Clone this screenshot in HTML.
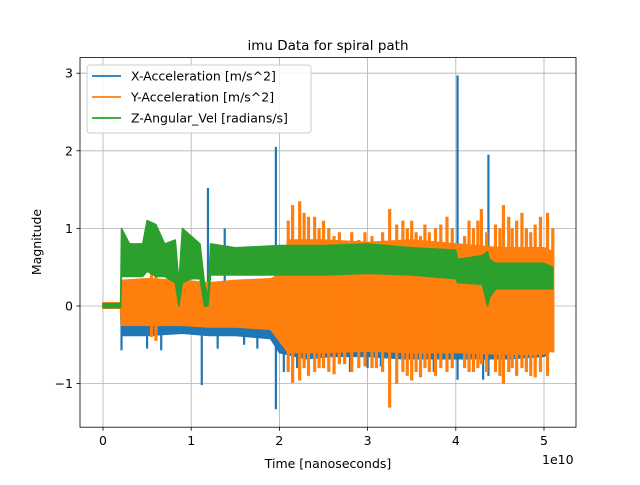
<!DOCTYPE html>
<html><head><meta charset="utf-8"><style>
body{margin:0;background:#fff}
svg text{font-family:"DejaVu Sans","Liberation Sans",sans-serif;fill:#000}
</style></head><body>
<svg id="chart" width="640" height="480" viewBox="0 0 640 480">
<rect width="640" height="480" fill="#fff"/>
<g id="grid"></g>
<g id="series"></g>
<rect x="80" y="57.6" width="496" height="369.6" fill="none" stroke="#000" stroke-width="0.8"/>
<g id="ticks"></g>
<text x="328" y="50" font-size="13.5" text-anchor="middle">imu Data for spiral path</text>
<text x="328" y="468" font-size="12.5" text-anchor="middle">Time [nanoseconds]</text>
<text x="542" y="464" font-size="12.5">1e10</text>
<text transform="translate(41,242) rotate(-90)" font-size="12.5" text-anchor="middle">Magnitude</text>
<g>
<rect x="87" y="65" width="224" height="68" rx="3" fill="#fff" fill-opacity="0.85" stroke="#ccc"/>
<line x1="92" y1="76" x2="121" y2="76" stroke="#1f77b4" stroke-width="1.8"/>
<text x="131" y="80.5" font-size="12.5">X-Acceleration [m/s^2]</text>
<line x1="92" y1="97" x2="121" y2="97" stroke="#ff7f0e" stroke-width="1.8"/>
<text x="131" y="101.5" font-size="12.5">Y-Acceleration [m/s^2]</text>
<line x1="92" y1="118" x2="121" y2="118" stroke="#2ca02c" stroke-width="1.8"/>
<text x="131" y="122.5" font-size="12.5">Z-Angular_Vel [radians/s]</text>
</g>
</svg>
<script>
var xTicks=[0,1,2,3,4,5];
var yTicks=[-1,0,1,2,3];
var yTickLabels=["\u22121","0","1","2","3"];
var blueT=[0,0.2,0.21,0.5,0.9,1.2,1.5,1.9,2.0,2.3,2.6,3.0,3.4,3.8,4.2,4.6,5.0,5.1];
var blueHi=[0.04,0.04,0.3,0.3,0.3,0.3,0.3,0.3,0.3,0.3,0.3,0.3,0.3,0.3,0.3,0.3,0.3,0.3];
var blueLo=[-0.03,-0.03,-0.38,-0.38,-0.35,-0.38,-0.38,-0.42,-0.6,-0.68,-0.65,-0.65,-0.68,-0.68,-0.68,-0.68,-0.65,-0.55];
var blueSpikeT=[1.19,1.12,1.96,1.38,4.02,4.37,4.31,4.98,0.21,0.66,0.5,1.3,1.6,1.75,2.05,2.2,2.8,3.0,3.15,3.6,3.75,4.6,4.85];
var blueSpikeTop=[1.52,0.3,2.05,1.0,2.97,1.95,0.3,0.3,0.3,0.3,0.3,0.3,0.3,0.3,0.3,0.3,0.3,0.3,0.3,0.3,0.3,0.3,0.3];
var blueSpikeBottom=[-0.3,-1.02,-1.33,-0.3,-0.95,-0.9,-0.95,-0.5,-0.57,-0.57,-0.55,-0.55,-0.5,-0.55,-0.85,-0.8,-0.85,-0.8,-0.78,-0.85,-0.85,-0.85,-0.8];
var orangeT=[0,0.2,0.21,0.5,0.9,1.2,1.5,1.9,2.0,2.1,2.5,3.0,3.5,4.0,4.5,5.0,5.1];
var orangeHi=[0.04,0.04,0.33,0.35,0.33,0.3,0.33,0.35,0.4,0.85,0.85,0.82,0.85,0.8,0.75,0.75,0.7];
var orangeLo=[-0.03,-0.03,-0.25,-0.25,-0.25,-0.27,-0.27,-0.3,-0.45,-0.6,-0.6,-0.58,-0.6,-0.6,-0.62,-0.62,-0.55];
var orangeSpikeT=[0.55,0.6,2.1,2.15,2.23,2.28,2.33,2.4,2.45,2.5,2.56,2.62,2.68,2.74,2.82,2.9,2.97,3.05,3.1,3.17,3.25,3.33,3.4,3.45,3.5,3.55,3.6,3.65,3.7,3.77,3.83,3.9,3.96,4.1,4.15,4.2,4.25,4.29,4.35,4.45,4.5,4.54,4.6,4.64,4.69,4.75,4.8,4.85,4.9,4.96,5.04,5.1];
var orangeSpikeTop=[0.45,0.4,1.1,1.3,1.35,1.2,1.15,1.15,1.0,1.1,1.0,0.9,0.95,0.8,0.95,0.85,0.95,0.9,0.8,0.95,1.25,1.05,1.1,1.0,1.1,0.95,0.9,1.05,0.95,1.0,1.05,1.15,1.0,0.9,1.1,1.0,1.1,1.25,0.95,1.05,1.0,1.3,1.15,1.0,1.1,1.2,1.0,0.95,1.05,1.15,1.2,1.0];
var orangeSpikeBottom=[-0.4,-0.45,-0.85,-0.99,-0.96,-0.8,-0.9,-0.85,-0.8,-0.8,-0.85,-0.88,-0.75,-0.75,-0.85,-0.8,-0.78,-0.8,-0.8,-0.85,-1.31,-1.0,-0.85,-0.9,-0.96,-0.85,-0.92,-0.8,-0.85,-0.9,-0.8,-0.85,-0.8,-0.8,-0.85,-0.85,-0.8,-0.75,-0.85,-0.85,-0.9,-1.0,-0.85,-0.8,-0.9,-0.8,-0.85,-0.9,-0.92,-0.85,-0.9,-0.6];
var greenT=[0,0.2,0.21,0.3,0.45,0.5,0.6,0.7,0.82,0.86,0.9,1.0,1.1,1.15,1.19,1.22,1.5,2.0,2.5,3.0,3.5,4.0,4.02,4.3,4.36,4.38,4.45,5.0,5.1];
var greenHi=[0.03,0.03,1.0,0.8,0.8,1.1,1.05,0.8,0.85,0.3,1.0,0.9,0.8,0.3,0.1,0.8,0.75,0.78,0.78,0.8,0.75,0.72,0.6,0.65,0.7,0.6,0.55,0.55,0.5];
var greenLo=[-0.02,-0.02,0.38,0.38,0.38,0.45,0.38,0.38,0.3,0.0,0.3,0.35,0.35,0.0,0.0,0.4,0.4,0.4,0.4,0.42,0.4,0.35,0.3,0.28,0.0,0.1,0.22,0.22,0.22];

var NS="http://www.w3.org/2000/svg";
function sx(t){return 103+t*88.2;}
function sy(v){return 306-v*77.6;}
function mk(tag,attrs,parent){var e=document.createElementNS(NS,tag);for(var k in attrs)e.setAttribute(k,attrs[k]);parent.appendChild(e);return e;}
var grid=document.getElementById('grid'),ticks=document.getElementById('ticks'),series=document.getElementById('series');
xTicks.forEach(function(t){
  var x=sx(t);
  var g=mk('line',{x1:x,y1:57.6,x2:x,y2:427.2,stroke:'#b0b0b0','stroke-width':0.8},grid);
  
  
  var tk=mk('line',{x1:x,y1:427.2,x2:x,y2:430.7,stroke:'#000','stroke-width':0.8},ticks);
  
  
  var lb=mk('text',{x:x,y:445,'font-size':12.5,'text-anchor':'middle'},ticks);
  lb.textContent=String(t);
  
  
});
yTicks.forEach(function(v,i){
  var y=sy(v);
  var g=mk('line',{x1:80,y1:y,x2:576,y2:y,stroke:'#b0b0b0','stroke-width':0.8},grid);
  
  
  var tk=mk('line',{x1:76.5,y1:y,x2:80,y2:y,stroke:'#000','stroke-width':0.8},ticks);
  
  
  var lb=mk('text',{x:73,y:y+4.5,'font-size':12.5,'text-anchor':'end'},ticks);
  lb.textContent=yTickLabels[i];
  
  
});
function band(T,H,L,color,name){
  var d='';
  for(var i=0;i<T.length;i++)d+=(i?'L':'M')+sx(T[i]).toFixed(1)+' '+sy(H[i]).toFixed(1);
  for(var j=T.length-1;j>=0;j--)d+='L'+sx(T[j]).toFixed(1)+' '+sy(L[j]).toFixed(1);
  d+='Z';
  var p=mk('path',{d:d,fill:color,stroke:color,'stroke-width':1.5,'stroke-linejoin':'round'},series);
  
  
}
function spikes(T,Top,Bot,color,w,name){
  T.forEach(function(t,i){
    var l=mk('line',{x1:sx(t),y1:sy(Top[i]),x2:sx(t),y2:sy(Bot[i]),stroke:color,'stroke-width':w},series);
    
    
  });
}
band(blueT,blueHi,blueLo,'#1f77b4','x-acceleration-series');
spikes(blueSpikeT,blueSpikeTop,blueSpikeBottom,'#1f77b4',2.2,'x-acceleration-spike');
band(orangeT,orangeHi,orangeLo,'#ff7f0e','y-acceleration-series');
spikes(orangeSpikeT,orangeSpikeTop,orangeSpikeBottom,'#ff7f0e',3.2,'y-acceleration-spike');
band(greenT,greenHi,greenLo,'#2ca02c','z-angular-vel-series');
</script>
</body></html>
